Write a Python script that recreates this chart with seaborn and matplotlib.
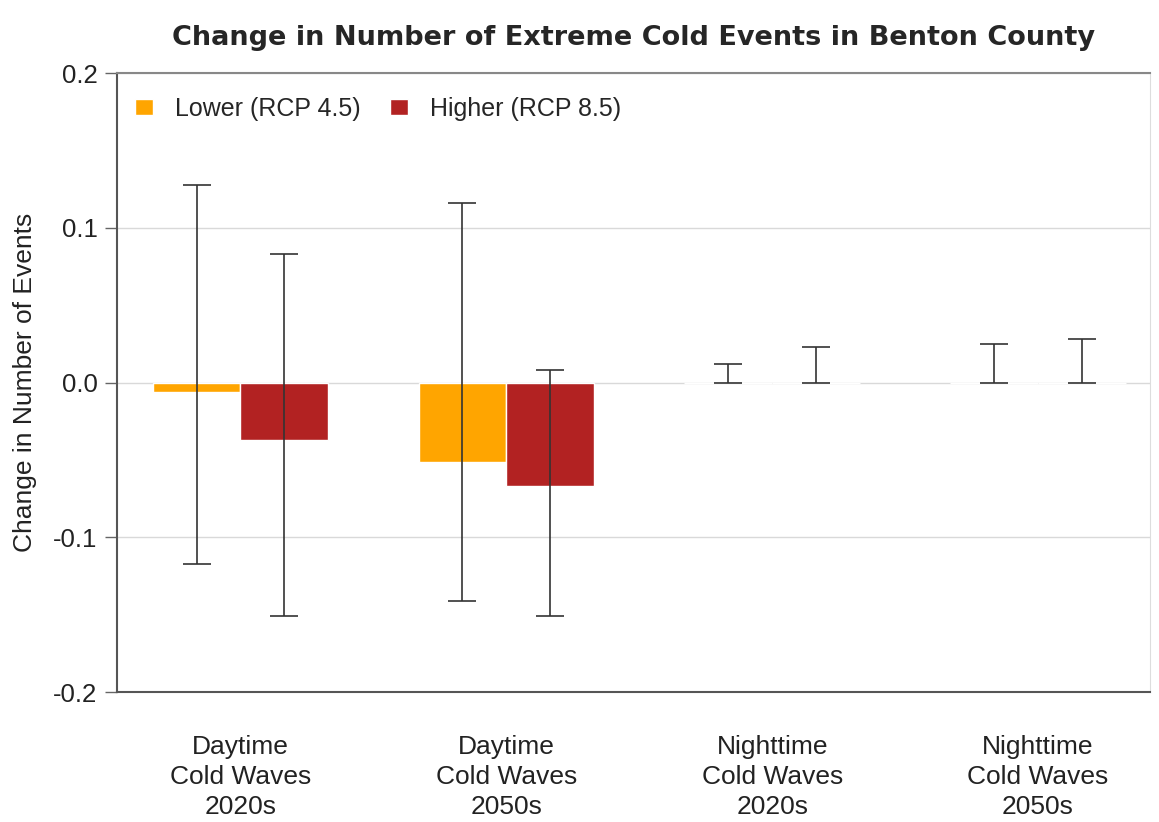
import pandas as pd
import matplotlib
matplotlib.use('Agg')
import matplotlib.pyplot as plt
import seaborn as sns

# Values
categories = ['Daytime\nCold Waves\n2020s', 'Daytime\nCold Waves\n2050s',
              'Nighttime\nCold Waves\n2020s', 'Nighttime\nCold Waves\n2050s']
scenarios = ['Lower (RCP 4.5)', 'Higher (RCP 8.5)']
lower_vals = [-0.006, -0.051, 0.0, 0.0]
higher_vals = [-0.037, -0.067, 0.0, 0.0]
lower_min = [-0.117, -0.141, 0.0, 0.0]
lower_max = [0.128, 0.116, 0.012, 0.025]
higher_min = [-0.151, -0.151, 0.0, 0.0]
higher_max = [0.083, 0.008, 0.023, 0.028]

df = pd.DataFrame({
    'Category': categories * 2,
    'Scenario': [scenarios[0]] * 4 + [scenarios[1]] * 4,
    'Change': lower_vals + higher_vals,
})

sns.set_style('white')
plt.rcParams['font.family'] = ['Liberation Sans', 'DejaVu Sans']

fig = plt.figure(figsize=(11.59, 8.22), dpi=100)
ax = fig.add_axes([0.101, 0.158, 0.891, 0.753])

sns.barplot(data=df, x='Category', y='Change', hue='Scenario',
            palette=['#FFA500', '#B22222'], width=0.66, ax=ax,
            errorbar=None, saturation=1, zorder=2)

# error bars from min/max ranges
ranges = [(lower_vals, lower_min, lower_max), (higher_vals, higher_min, higher_max)]
for container, (vals, lo, hi) in zip(ax.containers, ranges):
    xs = [b.get_x() + b.get_width() / 2 for b in container]
    yerr = [[v - l for v, l in zip(vals, lo)], [h - v for v, h in zip(vals, hi)]]
    ax.errorbar(xs, vals, yerr=yerr, fmt='none', ecolor='#333333',
                elinewidth=1.2, capsize=10, capthick=1.2, zorder=3)

ax.set_ylim(-0.2, 0.2)
ax.set_xlim(-0.464, 3.42)
ax.set_yticks([-0.2, -0.1, 0.0, 0.1, 0.2])
ax.set_yticklabels(['-0.2', '-0.1', '0.0', '0.1', '0.2'], fontsize=18.5, color='#222222')
ax.set_xticks(range(len(categories)))
ax.set_xticklabels(categories, fontsize=19, color='#222222', linespacing=1.32)
ax.tick_params(axis='x', length=0, pad=31)
ax.tick_params(axis='y', length=9, width=1, color='#666666', left=True, pad=5)
ax.yaxis.grid(True, color='#d9d9d9', linewidth=1, zorder=0)
ax.set_axisbelow(True)

ax.set_xlabel('')
ax.set_ylabel('Change in Number of Events', fontsize=19, color='#222222', labelpad=12)
ax.set_title('Change in Number of Extreme Cold Events in Benton County',
             fontsize=19.5, fontweight='bold', family='DejaVu Sans', pad=20)

for side in ['left', 'bottom']:
    ax.spines[side].set_color('#555555')
    ax.spines[side].set_linewidth(1.5)
ax.spines['top'].set_color('#888888')
ax.spines['top'].set_linewidth(1.5)
ax.spines['right'].set_color('#dddddd')

ax.legend(loc='upper left', ncol=2, frameon=False, fontsize=18,
          handlelength=0.72, handleheight=0.6, handletextpad=0.85, columnspacing=1.2,
          bbox_to_anchor=(-0.004, 0.998))

fig.savefig('out.png', dpi=100)
